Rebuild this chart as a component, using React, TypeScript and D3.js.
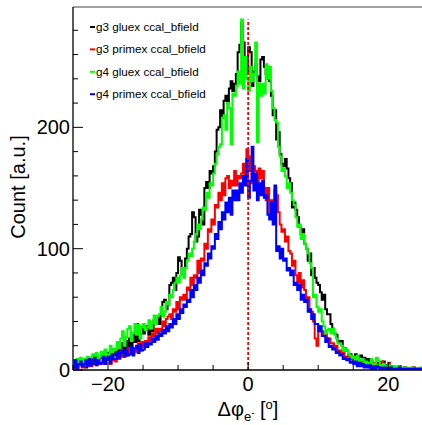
import React from "react";
import * as d3 from "d3";

// Histogram binning: 200 bins over [-25, 25] deg
const xMin = -25;
const xMax = 25;
const nBins = 200;

const seriesNames = [
  "g3 gluex ccal_bfield",
  "g3 primex ccal_bfield",
  "g4 gluex ccal_bfield",
  "g4 primex ccal_bfield",
];
const seriesColors = ["#000000", "#ff0000", "#00ff00", "#0000ff"];

const g3Gluex = [
  3, 8, 2, 6, 5, 9, 4, 2, 9, 4, 7, 11, 5, 12, 6, 10, 13, 7, 11, 14,
  8, 15, 10, 17, 12, 20, 14, 18, 22, 14, 24, 17, 26, 18, 29, 23, 38, 24, 32, 35,
  30, 35, 36, 29, 33, 32, 41, 43, 44, 38, 46, 56, 58, 50, 54, 70, 72, 76, 66, 80,
  93, 90, 80, 84, 92, 100, 110, 112, 130, 126, 106, 110, 132, 128, 120, 150, 155, 150, 164, 162,
  168, 180, 198, 200, 214, 208, 222, 226, 220, 232, 238, 230, 236, 244, 262, 268, 286, 270, 248, 244,
  266, 262, 234, 246, 252, 242, 238, 256, 258, 250, 244, 240, 238, 226, 210, 214, 190, 196, 178, 170,
  168, 174, 166, 158, 154, 134, 138, 132, 126, 118, 112, 116, 104, 100, 90, 96, 78, 84, 76, 72,
  70, 64, 58, 62, 50, 46, 46, 38, 34, 30, 29, 24, 22, 24, 16, 18, 16, 12, 13, 11,
  8, 13, 7, 11, 12, 6, 10, 5, 9, 4, 7, 3, 5, 3, 6, 2, 2, 7, 1, 4,
  3, 1, 2, 0, 2, 1, 3, 1, 0, 2, 1, 1, 1, 0, 2, 1, 0, 1, 1, 0,
];

const g3Primex = [
  1, 6, 2, 4, 5, 2, 7, 3, 4, 8, 3, 7, 8, 4, 9, 5, 5, 10, 6, 9,
  10, 5, 12, 8, 7, 13, 9, 15, 11, 16, 12, 18, 13, 19, 14, 17, 15, 22, 16, 23,
  19, 24, 22, 27, 24, 30, 28, 34, 30, 34, 32, 40, 36, 42, 44, 46, 42, 50, 48, 56,
  50, 60, 58, 62, 58, 68, 66, 76, 70, 78, 76, 90, 80, 92, 90, 104, 100, 116, 114, 124,
  120, 136, 134, 146, 140, 154, 144, 158, 160, 150, 156, 152, 164, 152, 160, 158, 162, 170, 158, 182,
  176, 164, 154, 168, 164, 154, 166, 158, 164, 150, 140, 150, 128, 140, 138, 148, 144, 130, 120, 114,
  116, 106, 110, 98, 96, 86, 90, 78, 72, 80, 68, 74, 66, 58, 60, 48, 48, 40, 26, 20,
  36, 32, 32, 28, 30, 25, 26, 22, 22, 19, 20, 15, 16, 13, 14, 10, 11, 12, 9, 9,
  6, 9, 5, 8, 4, 7, 3, 6, 5, 2, 7, 3, 6, 2, 4, 3, 7, 2, 3, 1,
  6, 1, 3, 2, 2, 0, 3, 1, 1, 2, 0, 1, 0, 1, 2, 0, 1, 0, 1, 1,
];

const g4Gluex = [
  8, 4, 9, 5, 10, 5, 9, 6, 11, 6, 10, 13, 7, 14, 9, 11, 15, 10, 17, 12,
  13, 20, 12, 17, 16, 23, 18, 26, 32, 20, 27, 34, 36, 24, 31, 38, 29, 37, 26, 35,
  38, 33, 35, 41, 34, 39, 45, 38, 44, 46, 52, 44, 48, 56, 54, 62, 60, 66, 72, 76,
  72, 78, 84, 76, 84, 90, 96, 94, 100, 106, 112, 120, 116, 124, 134, 132, 146, 142, 154, 152,
  162, 170, 178, 184, 186, 208, 210, 198, 220, 216, 186, 228, 226, 234, 246, 236, 289, 232, 258, 240,
  230, 250, 238, 244, 270, 188, 236, 226, 236, 228, 252, 240, 250, 230, 216, 206, 204, 184, 176, 164,
  166, 160, 150, 154, 146, 140, 136, 126, 118, 120, 108, 112, 104, 100, 96, 88, 84, 60, 62, 52,
  48, 50, 40, 36, 30, 33, 34, 30, 34, 30, 26, 22, 22, 20, 16, 18, 16, 13, 12, 10,
  11, 8, 12, 7, 8, 9, 5, 7, 4, 6, 9, 3, 5, 10, 8, 4, 3, 5, 2, 3,
  4, 2, 1, 3, 2, 3, 1, 2, 2, 0, 2, 1, 1, 2, 0, 1, 1, 0, 2, 1,
];

const g4Primex = [
  2, 8, 1, 5, 7, 3, 5, 8, 3, 9, 4, 7, 10, 4, 8, 5, 6, 11, 5, 9,
  11, 6, 13, 9, 9, 15, 10, 14, 16, 11, 17, 12, 13, 19, 12, 18, 20, 14, 21, 16,
  17, 22, 19, 22, 21, 26, 23, 28, 25, 30, 28, 33, 30, 36, 32, 38, 35, 42, 38, 46,
  42, 50, 47, 54, 52, 58, 56, 66, 60, 70, 66, 76, 72, 82, 78, 88, 86, 96, 92, 102,
  100, 112, 108, 122, 116, 130, 124, 138, 130, 142, 128, 148, 140, 148, 140, 154, 146, 160, 152, 174,
  142, 156, 184, 148, 162, 140, 154, 144, 156, 142, 144, 128, 124, 138, 120, 152, 98, 102, 92, 100,
  90, 92, 82, 84, 78, 82, 70, 72, 66, 70, 58, 62, 56, 58, 48, 50, 42, 46, 38, 38,
  32, 36, 28, 28, 23, 26, 19, 20, 17, 18, 14, 15, 12, 13, 9, 10, 8, 9, 6, 7,
  5, 7, 3, 6, 3, 5, 2, 4, 2, 4, 1, 3, 1, 3, 2, 1, 2, 0, 2, 1,
  1, 2, 0, 1, 0, 1, 2, 1, 1, 0, 1, 0, 1, 1, 0, 1, 0, 1, 1, 0,
];

const seriesValues = [g3Gluex, g3Primex, g4Gluex, g4Primex];

const xMajorTicks = [-20, 0, 20];
const xMajorLabels = ["\u221220", "0", "20"];
const xMinorTicks = [-25, -15, -10, -5, 5, 10, 15];
const yMajorTicks = [0, 100, 200];
const yMajorLabels = ["0", "100", "200"];

const W = 422;
const H = 425;
const FONT = "'Liberation Sans', Arial, Helvetica, sans-serif";

export default function App() {
  const left = 73;
  const bottom = 370;
  const top = 7;
  const x = d3.scaleLinear().domain([xMin, xMax]).range([left, 423.3]);
  const y = d3.scaleLinear().domain([0, 299.2]).range([bottom, top]);
  const binW = (xMax - xMin) / nBins;

  const stepPath = (vals: number[]) => {
    const pts: [number, number][] = [];
    pts.push([xMin, 0]);
    vals.forEach((v, i) => {
      const x0 = xMin + i * binW;
      pts.push([x0, v]);
      pts.push([x0 + binW, v]);
    });
    pts.push([xMax, 0]);
    return d3
      .line<[number, number]>()
      .x((d) => x(d[0]))
      .y((d) => y(d[1]))(pts) as string;
  };

  const yMinor = d3.range(0, 300, 20).filter((v) => v % 100 !== 0);
  const peak = d3.max(seriesValues.flat()) as number;

  return (
    <svg
      width={W}
      height={H}
      style={{ position: "absolute", left: 0, top: 0, background: "#fff" }}
      fontFamily={FONT}
    >
      <rect x={0} y={0} width={W} height={H} fill="#fff" />
      <defs>
        <clipPath id="frame">
          <rect x={left} y={top} width={W - left} height={bottom - top} />
        </clipPath>
      </defs>
      <g clipPath="url(#frame)">
        {seriesValues.map((vals, i) => (
          <path
            key={i}
            d={stepPath(vals)}
            fill="none"
            stroke={seriesColors[i]}
            strokeWidth={2}
            strokeLinejoin="miter"
          />
        ))}
        <line
          x1={x(0)}
          x2={x(0)}
          y1={y(0)}
          y2={y(peak)}
          stroke="#ff0000"
          strokeWidth={1.8}
          strokeDasharray="3,2"
        />
      </g>
      {/* frame */}
      <line x1={left} x2={W} y1={top} y2={top} stroke="#444" strokeWidth={1} />
      <line x1={left} x2={left} y1={top} y2={bottom} stroke="#000" strokeWidth={1.3} />
      <line x1={left} x2={W} y1={bottom} y2={bottom} stroke="#000" strokeWidth={1.3} />
      {/* x ticks */}
      {xMajorTicks.map((t, i) => (
        <g key={"xm" + i}>
          <line x1={x(t)} x2={x(t)} y1={bottom} y2={bottom - 8} stroke="#000" strokeWidth={1} />
          <text x={x(t)} y={391} fontSize={20} textAnchor="middle" fill="#000">
            {xMajorLabels[i]}
          </text>
        </g>
      ))}
      {xMinorTicks.map((t, i) => (
        <line key={"xn" + i} x1={x(t)} x2={x(t)} y1={bottom} y2={bottom - 5} stroke="#000" strokeWidth={1} />
      ))}
      {/* y ticks */}
      {yMajorTicks.map((t, i) => (
        <g key={"ym" + i}>
          <line x1={left} x2={left + 10} y1={y(t)} y2={y(t)} stroke="#000" strokeWidth={1} />
          <text x={70} y={y(t) + 7} fontSize={20} textAnchor="end" fill="#000">
            {yMajorLabels[i]}
          </text>
        </g>
      ))}
      {yMinor.map((t, i) => (
        <line key={"yn" + i} x1={left} x2={left + 5} y1={y(t)} y2={y(t)} stroke="#000" strokeWidth={1} />
      ))}
      {/* axis titles */}
      <text
        transform="translate(24.5,187) rotate(-90)"
        fontSize={20}
        textAnchor="middle"
        fill="#000"
      >
        Count [a.u.]
      </text>
      <text x={248} y={416} fontSize={20} textAnchor="middle" fill="#000">
        Δφ
        <tspan fontSize={13} dy={5}>e</tspan>
        <tspan fontSize={10} dy={-5}>-</tspan>
        <tspan fontSize={20} dy={0}> [</tspan>
        <tspan fontSize={13} dy={-7}>o</tspan>
        <tspan fontSize={20} dy={7}>]</tspan>
      </text>
      {/* legend */}
      {seriesNames.map((name, i) => {
        const ly = 27 + i * 22.4;
        return (
          <g key={"lg" + i}>
            <line x1={90} x2={95} y1={ly} y2={ly} stroke={seriesColors[i]} strokeWidth={2} />
            <text x={96} y={ly + 4} fontSize={11.7} fill="#000">
              {name}
            </text>
          </g>
        );
      })}
    </svg>
  );
}
